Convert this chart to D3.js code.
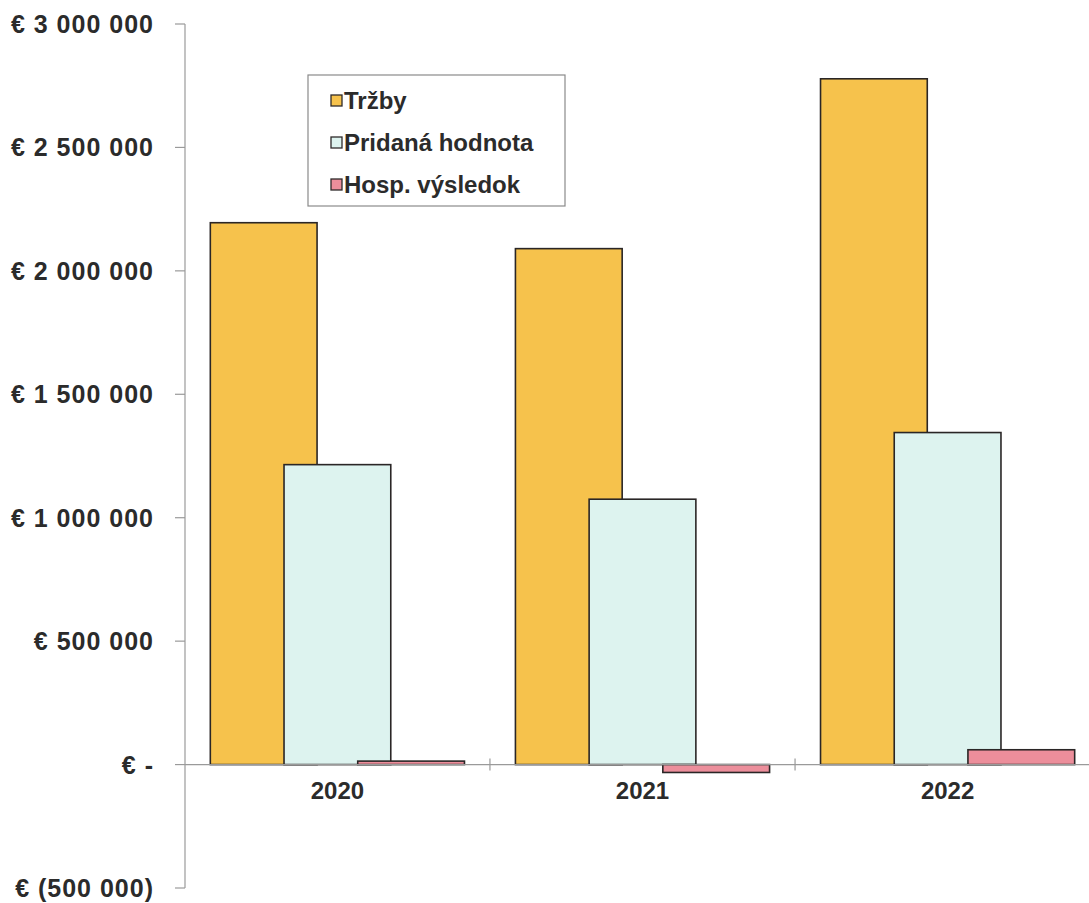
<!DOCTYPE html>
<html>
<head>
<meta charset="utf-8">
<script src="https://cdn.jsdelivr.net/npm/d3@7"></script>
<style>
  body { margin: 0; background: #fff; }
  svg { display: block; font-family: "Liberation Sans", Arial, sans-serif; }
</style>
</head>
<body>
<svg id="chart" width="1089" height="903"></svg>
<script>
// --- DATA ---
const years = ["2020", "2021", "2022"];
const seriesNames = ["Tržby", "Pridaná hodnota", "Hosp. výsledok"];
const trzby = [2195000, 2090000, 2778000];
const pridana = [1215000, 1075000, 1345000];
const hosp = [14000, -32000, 60000];
const yTicks = [-500000, 0, 500000, 1000000, 1500000, 2000000, 2500000, 3000000];

const COLORS = ["#f6c24c", "#ddf3ef", "#ec8e9b"];
const values = [trzby, pridana, hosp];

const svg = d3.select("#chart");
const mL = 185, mT = 24, plotBottom = 888, plotRight = 1100;

const y = d3.scaleLinear().domain([-500000, 3000000]).range([plotBottom, mT]);
const x = d3.scaleBand().domain(years).range([mL, plotRight]).paddingInner(0.167).paddingOuter(0.083);

const fmt = v => {
  if (v === 0) return "€ -";
  const s = d3.format(",")(Math.abs(v)).replace(/,/g, " ");
  return v < 0 ? `€ (${s})` : `€ ${s}`;
};

// y axis
svg.append("line")
  .attr("x1", mL).attr("x2", mL)
  .attr("y1", y(3000000)).attr("y2", y(-500000))
  .attr("stroke", "#9a9a9a").attr("stroke-width", 1.2);

yTicks.forEach(t => {
  svg.append("line")
    .attr("x1", mL - 10).attr("x2", mL)
    .attr("y1", y(t)).attr("y2", y(t))
    .attr("stroke", "#9a9a9a").attr("stroke-width", 1.2);
  svg.append("text")
    .attr("x", 154).attr("y", y(t))
    .attr("dy", "0.36em")
    .attr("text-anchor", "end")
    .style("font-size", "25px").style("font-weight", "700")
    .style("letter-spacing", "1px")
    .attr("fill", "#2b2b2b")
    .text(fmt(t));
});

// bars: overlapping, each ~42% of the band
const barW = x.bandwidth() * 0.42;
const step = (x.bandwidth() - barW) / 2;

values.forEach((vals, si) => {
  svg.append("g").selectAll("rect")
    .data(years.map((yr, i) => ({ yr, v: vals[i] })))
    .join("rect")
    .attr("x", d => x(d.yr) + si * step)
    .attr("width", barW)
    .attr("y", d => y(Math.max(0, d.v)))
    .attr("height", d => Math.max(2, Math.abs(y(d.v) - y(0))))
    .attr("fill", COLORS[si])
    .attr("stroke", "#2a2626").attr("stroke-width", 1.6);
});

// x axis (zero line)
svg.append("line")
  .attr("x1", mL).attr("x2", 1089)
  .attr("y1", y(0)).attr("y2", y(0))
  .attr("stroke", "#9a9a9a").attr("stroke-width", 1.2);

years.slice(1).forEach(yr => {
  const bx = x(yr) - x.step() * x.paddingInner() / 2;
  svg.append("line")
    .attr("x1", bx).attr("x2", bx)
    .attr("y1", y(0) - 6).attr("y2", y(0) + 6)
    .attr("stroke", "#9a9a9a").attr("stroke-width", 1.2);
});

years.forEach(yr => {
  svg.append("text")
    .attr("x", x(yr) + x.bandwidth() / 2)
    .attr("y", y(0) + 34)
    .attr("text-anchor", "middle")
    .style("font-size", "24px").style("font-weight", "700")
    .attr("fill", "#2b2b2b")
    .text(yr);
});

// legend
const lg = svg.append("g").attr("transform", "translate(308,75)");
lg.append("rect")
  .attr("width", 257).attr("height", 131)
  .attr("fill", "#fff").attr("stroke", "#8a8a8a").attr("stroke-width", 1.2);
seriesNames.forEach((name, i) => {
  const cy = 25 + i * 42;
  lg.append("rect")
    .attr("x", 23).attr("y", cy - 5)
    .attr("width", 11).attr("height", 11)
    .attr("fill", COLORS[i]).attr("stroke", "#2e2a2a").attr("stroke-width", 1.3);
  lg.append("text")
    .attr("x", 36).attr("y", cy)
    .attr("dy", "0.36em")
    .style("font-size", "24px").style("font-weight", "700")
    .attr("fill", "#2b2b2b")
    .text(name);
});
</script>
</body>
</html>
